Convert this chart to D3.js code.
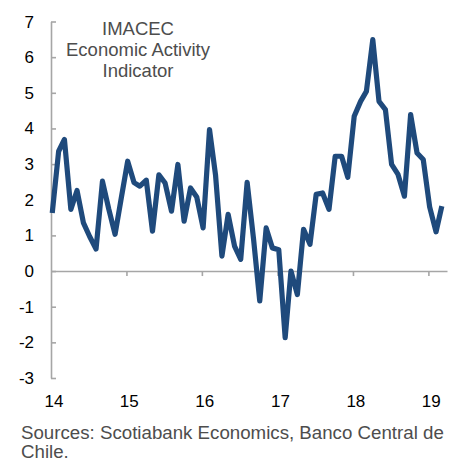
<!DOCTYPE html>
<html>
<head>
<meta charset="utf-8">
<script src="https://cdn.jsdelivr.net/npm/d3@7"></script>
<style>
  html, body { margin: 0; padding: 0; background: #fff; }
  svg { display: block; font-family: "Liberation Sans", Arial, sans-serif; }
</style>
</head>
<body>
<script>
// ---- Data (monthly IMACEC y/y %, Jan 2014 – Mar 2019) ----
const startYear = 2014;
const imacec = [
  1.63, 3.36, 3.69, 1.73, 2.26, 1.35, 0.97, 0.62, 2.52, 1.75, 1.03, 2.05,
  3.08, 2.48, 2.38, 2.55, 1.12, 2.70, 2.47, 1.68, 2.99, 1.40, 2.33, 2.08,
  1.21, 3.97, 2.70, 0.42, 1.59, 0.70, 0.33, 2.49, 0.90, -0.84, 1.21, 0.65,
  0.60, -1.87, 0.00, -0.66, 1.17, 0.75, 2.15, 2.19, 1.73, 3.22, 3.22, 2.63,
  4.34, 4.76, 5.04, 6.49, 4.76, 4.53, 2.99, 2.71, 2.10, 4.39, 3.31, 3.13,
  1.80, 1.10, 1.82
];
const yTicks = [-3, -2, -1, 0, 1, 2, 3, 4, 5, 6, 7];
const xTickYears = [2014, 2015, 2016, 2017, 2018, 2019];
const xTickLabels = ["14", "15", "16", "17", "18", "19"];
const titleLines = ["IMACEC", "Economic Activity", "Indicator"];
const sourceLines = ["Sources: Scotiabank Economics, Banco Central de", "Chile."];

const dates = imacec.map((v, i) => new Date(startYear, i, 7));
const series = imacec.map((v, i) => ({ date: dates[i], value: v }));

// ---- Chart ----
const W = 454, H = 460;
const svg = d3.select("body").append("svg").attr("width", W).attr("height", H);

const x = d3.scaleTime()
  .domain([new Date(2014, 0, 1), new Date(2019, 3, 1)])
  .range([51, 447]);
const y = d3.scaleLinear().domain([-3, 7]).range([378, 21.5]);

const axisColor = "#a6a6a6";

// y axis (ticks pointing inward)
const yAxis = svg.append("g")
  .attr("transform", `translate(${x.range()[0]},0)`)
  .call(d3.axisRight(y).tickValues(yTicks).tickSize(5).tickSizeOuter(0).tickFormat(""));
yAxis.selectAll("path, line").attr("stroke", axisColor).attr("stroke-width", 1.6);

// x axis at zero
const xAxis = svg.append("g")
  .attr("transform", `translate(0,${y(0)})`)
  .call(d3.axisBottom(x)
    .tickValues(xTickYears.slice(1).map(yr => new Date(yr, 0, 1)))
    .tickSize(5).tickSizeOuter(0).tickFormat(""));
xAxis.selectAll("path, line").attr("stroke", axisColor).attr("stroke-width", 1.6);

// y tick labels
svg.append("g").selectAll("text").data(yTicks).join("text")
  .attr("x", 34).attr("y", d => y(d) + 6)
  .attr("text-anchor", "end")
  .attr("font-size", 17).attr("fill", "#000")
  .text(d => d);

// x tick labels (centered mid-January)
svg.append("g").selectAll("text").data(xTickYears).join("text")
  .attr("x", d => x(new Date(d, 0, 15)))
  .attr("y", 407)
  .attr("text-anchor", "middle")
  .attr("font-size", 17).attr("fill", "#000")
  .text((d, i) => xTickLabels[i]);

// line
const line = d3.line().x(d => x(d.date)).y(d => y(d.value));
svg.append("path").datum(series)
  .attr("d", line)
  .attr("fill", "none")
  .attr("stroke", "#1f4a7c")
  .attr("stroke-width", 5.2)
  .attr("stroke-linejoin", "round");

// title
svg.append("g").selectAll("text").data(titleLines).join("text")
  .attr("x", 138).attr("y", (d, i) => 35 + i * 21)
  .attr("text-anchor", "middle")
  .attr("font-size", 18.5).attr("fill", "#4d4d4d")
  .text(d => d);

// source note
svg.append("g").selectAll("text").data(sourceLines).join("text")
  .attr("x", 21).attr("y", (d, i) => 438.5 + i * 19)
  .attr("font-size", 18.7).attr("fill", "#4d4d4d")
  .text(d => d);
</script>
</body>
</html>
